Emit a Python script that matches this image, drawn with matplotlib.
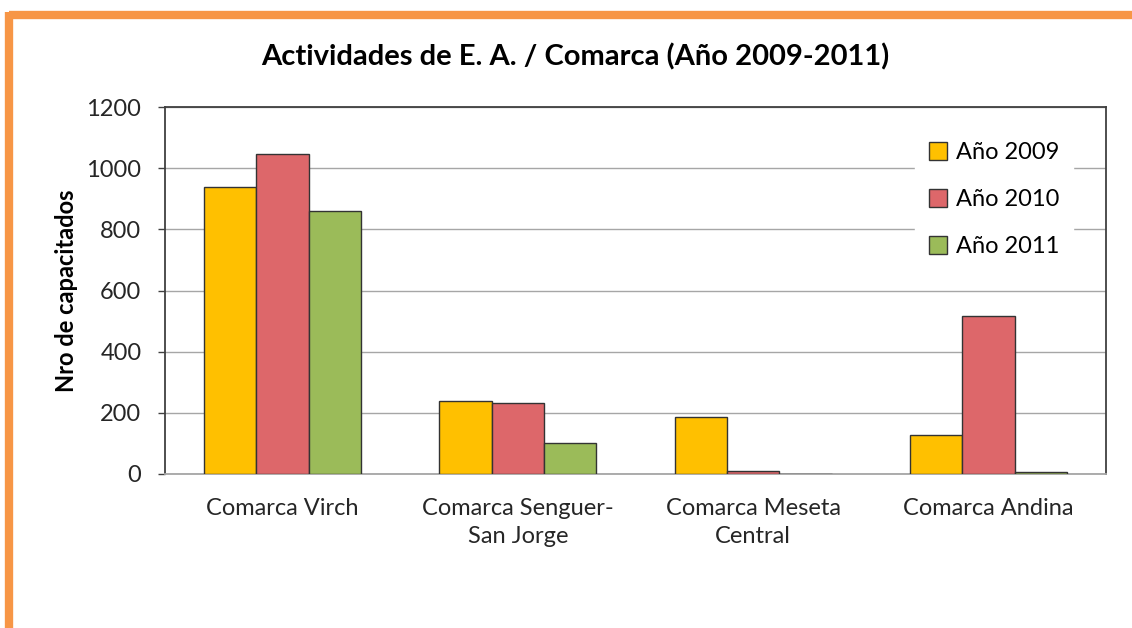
import numpy as np
import matplotlib.pyplot as plt
from matplotlib.lines import Line2D

plt.rcParams['font.family'] = ['Lato', 'DejaVu Sans']

categories = ["Comarca Virch", "Comarca Senguer-\nSan Jorge", "Comarca Meseta\nCentral", "Comarca Andina"]
series_names = ["Año 2009", "Año 2010", "Año 2011"]
v2009 = [940, 240, 186, 127]
v2010 = [1045, 232, 10, 515]
v2011 = [860, 102, 0, 8]
colors = ["#FFC000", "#DD676A", "#9BBB59"]
yticks = [0, 200, 400, 600, 800, 1000, 1200]

fig = plt.figure(figsize=(11.32, 6.28), dpi=100)
ax = fig.add_axes([165 / 1132, 1 - 474 / 628, (1106 - 165) / 1132, (474 - 107) / 628])

# orange frame on top and left
fig.add_artist(Line2D([9 / 1132, 1.0], [1 - 15 / 628, 1 - 15 / 628], transform=fig.transFigure,
                      color="#F79646", lw=6, solid_capstyle="butt"))
fig.add_artist(Line2D([9 / 1132, 9 / 1132], [1 - 12 / 628, 0.0], transform=fig.transFigure,
                      color="#F79646", lw=6, solid_capstyle="butt"))

x = np.arange(len(categories))
w = 1 / 4.5
for i, (vals, c, name) in enumerate(zip([v2009, v2010, v2011], colors, series_names)):
    ax.bar(x + (i - 1) * w, vals, width=w, color=c, edgecolor="#333333", linewidth=1.0,
           label=name, zorder=3)

ax.set_xlim(-0.5, len(categories) - 0.5)
ax.set_ylim(0, 1200)
ax.set_yticks(yticks)
ax.yaxis.grid(True, color="#A6A6A6", linewidth=1.0, zorder=0)
ax.set_axisbelow(True)
ax.set_xticks(x)
ax.set_xticklabels(categories, fontsize=17, color="#262626", linespacing=1.45)
ax.tick_params(axis="x", length=0, pad=17)
ax.tick_params(axis="y", labelsize=17, length=5, width=1, color="#404040", pad=12, labelcolor="#262626")

for s in ["top", "right", "left"]:
    ax.spines[s].set_color("#404040")
    ax.spines[s].set_linewidth(1.3)
ax.spines["bottom"].set_color("#A6A6A6")
ax.spines["bottom"].set_linewidth(1.3)

ax.set_ylabel("Nro de capacitados", fontsize=17, fontweight="bold", labelpad=6)
fig.text(575 / 1132, 1 - 57 / 628, "Actividades de E. A. / Comarca (Año 2009-2011)",
         ha="center", va="center", fontsize=21, fontweight="bold")

leg = ax.legend(loc="upper right", bbox_to_anchor=(0.978, 0.975), frameon=True, fontsize=17,
                handlelength=0.75, handleheight=0.75, handletextpad=0.4, labelspacing=1.1,
                borderpad=0.6)
leg.get_frame().set_facecolor("white")
leg.get_frame().set_edgecolor("white")
leg.get_frame().set_alpha(1)

fig.savefig("out.png", dpi=100, facecolor="white")
